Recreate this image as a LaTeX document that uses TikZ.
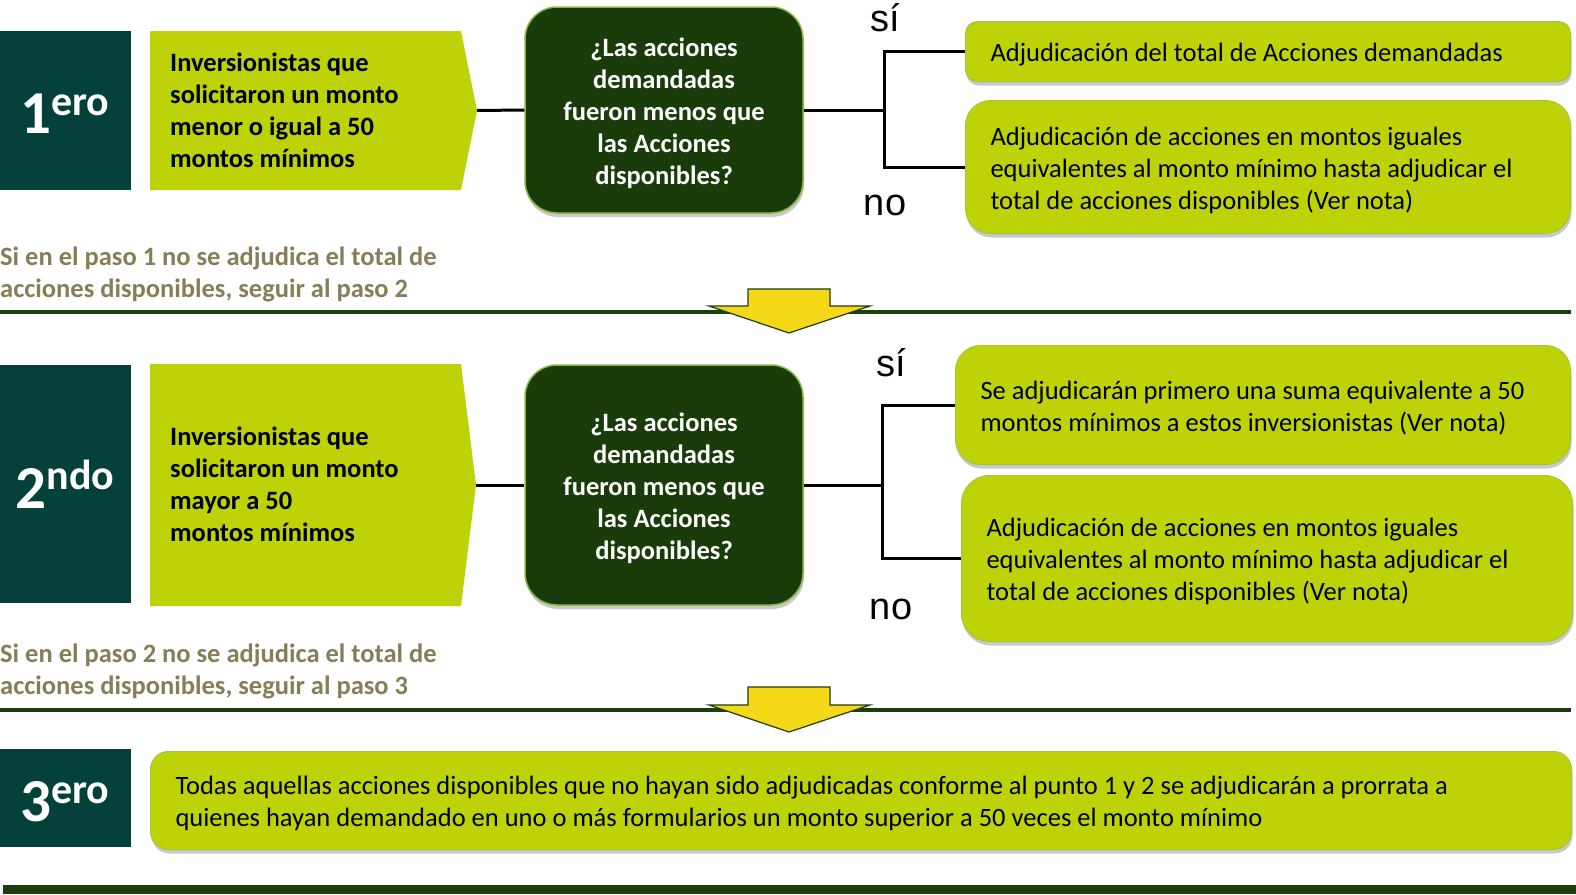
\documentclass[tikz,border=0pt]{standalone}
\usepackage{fontspec}
\setmainfont{Carlito}
\newfontfamily\arialf{Liberation Sans}
\usetikzlibrary{shadows}
\definecolor{tealbox}{HTML}{03413A}
\definecolor{limef}{HTML}{BDD308}
\definecolor{limeedge}{HTML}{A4C63C}
\definecolor{decfill}{HTML}{1A3C0B}
\definecolor{decedge}{HTML}{8BB443}
\definecolor{olivetxt}{HTML}{857E56}
\definecolor{rulecol}{HTML}{1C3D0C}
\definecolor{arrowy}{HTML}{F5D818}
\newcommand\tstrut{\spaceskip=0pt\relax\rule{0pt}{30.5pt}}
\newcommand\bstrut{\rule[-9.6pt]{0pt}{9.6pt}}
\begin{document}
\begin{tikzpicture}[x=1pt,y=-1pt,
  stepnum/.style={fill=tealbox, inner sep=0pt, minimum width=131pt, anchor=north west},
  numtext/.style={text=white, font=\bfseries, inner sep=0pt, anchor=base},
  bodytext/.style={font=\fontsize{26.5}{32}\selectfont\bfseries, align=left, inner sep=0pt, anchor=west},
  olive/.style={bodytext, text=olivetxt},
  shadowed/.style={drop shadow={shadow xshift=1pt, shadow yshift=-4pt, opacity=0.3, fill=black!70}},
  decision/.style={shadowed, fill=decfill, draw=decedge, line width=1.5pt, rounded corners=32pt,
    text=white, font=\fontsize{26.5}{32}\selectfont\bfseries, align=center, inner sep=0pt,
    minimum width=278pt},
  result/.style={shadowed, fill=limef, draw=limeedge, line width=1pt, anchor=north west,
    font=\fontsize{26.5}{32}\selectfont, align=left, inner xsep=25pt, inner ysep=0pt},
  yesno/.style={font=\arialf\fontsize{38}{38}\selectfont, inner sep=0pt, anchor=base},
  conn/.style={line width=3pt, black},
  rulel/.style={line width=4.5pt, rulecol},
  downarrow/.style={fill=arrowy, draw=rulecol, line width=1.2pt, line join=miter}
]
\useasboundingbox (0,0) rectangle (1576,894);

% ---------- Row 1 ----------
\node[stepnum, minimum height=159pt] (s1) at (0,31) {};
\node[numtext] (n1) at (65,133) {\fontsize{61}{61}\selectfont 1\raisebox{18pt}{\fontsize{42}{42}\selectfont ero}};
\fill[limef] (150,31) -- (461,31) -- (477,110.5) -- (461,190) -- (150,190) -- cycle;
\coordinate (t1) at (477,110.5);
\node[bodytext] (q1) at (170,109.5) {\tstrut Inversionistas que\\solicitaron un monto\\menor o igual a 50\\montos mínimos\bstrut};
\node[decision, minimum height=206pt] (d1) at (664,110) {\tstrut¿Las acciones\\demandadas\\fueron menos que\\las Acciones\\disponibles?\bstrut};
\node[result, minimum width=605pt, minimum height=60pt, text width=555pt, rounded corners=12pt] (r1) at (965,21)
  {\tstrut Adjudicación del total de Acciones demandadas\bstrut};
\node[result, minimum width=605pt, minimum height=133pt, text width=555pt, rounded corners=25pt] (r2) at (965,100)
  {\tstrut Adjudicación de acciones en montos iguales\\equivalentes al monto mínimo hasta adjudicar el\\total de acciones disponibles (Ver nota)\bstrut};
\coordinate (j1) at (884,110);
\draw[conn] (t1) -- (d1.west);
\draw[conn] (d1.east) -- (j1);
\draw[conn] (j1) |- (r1.west);
\draw[conn] (j1) |- (r2.west);
\node[yesno] (y1) at (885,31) {sí};
\node[yesno] (x1) at (885,215) {no};
\node[olive] (o1) at (0,271.2) {\tstrut Si en el paso 1 no se adjudica el total de\\acciones disponibles, seguir al paso 2\bstrut};
\draw[rulel] (0,312) -- (1571,312);
\draw[downarrow] (748,289) -- (830,289) -- (830,306) -- (870,306) -- (789,333) -- (709,306) -- (748,306) -- cycle;

% ---------- Row 2 ----------
\node[stepnum, minimum height=238pt] (s2) at (0,365) {};
\node[numtext] (n2) at (65,508) {\fontsize{61}{61}\selectfont 2\raisebox{19pt}{\fontsize{42}{42}\selectfont ndo}};
\fill[limef] (150,364) -- (461,364) -- (476,485) -- (461,606) -- (150,606) -- cycle;
\coordinate (t2) at (476,485);
\node[bodytext] (q2) at (170,483.5) {\tstrut Inversionistas que\\solicitaron un monto\\mayor a 50\\montos mínimos\bstrut};
\node[decision, minimum height=240pt] (d2) at (664,485) {\tstrut¿Las acciones\\demandadas\\fueron menos que\\las Acciones\\disponibles?\bstrut};
\node[result, minimum width=615pt, minimum height=119pt, text width=565pt, rounded corners=25pt] (r3) at (955,345)
  {\tstrut Se adjudicarán primero una suma equivalente a 50\\montos mínimos a estos inversionistas (Ver nota)\bstrut};
\node[result, minimum width=611pt, minimum height=166pt, text width=561pt, rounded corners=28pt] (r4) at (961,475)
  {\tstrut Adjudicación de acciones en montos iguales\\equivalentes al monto mínimo hasta adjudicar el\\total de acciones disponibles (Ver nota)\bstrut};
\coordinate (j2) at (882,485);
\draw[conn] (t2) -- (d2.west);
\draw[conn] (d2.east) -- (j2);
\draw[conn] (j2) |- (r3.west);
\draw[conn] (j2) |- (r4.west);
\node[yesno] (y2) at (891,376) {sí};
\node[yesno] (x2) at (891,619) {no};
\node[olive] (o2) at (0,668) {\tstrut Si en el paso 2 no se adjudica el total de\\acciones disponibles, seguir al paso 3\bstrut};
\draw[rulel] (0,710) -- (1571,710);
\draw[downarrow] (748,687) -- (830,687) -- (830,705) -- (870,705) -- (789,732) -- (709,705) -- (748,705) -- cycle;

% ---------- Row 3 ----------
\node[stepnum, minimum height=98pt] (s3) at (0,749) {};
\node[numtext] (n3) at (65,821) {\fontsize{61}{61}\selectfont 3\raisebox{18pt}{\fontsize{42}{42}\selectfont ero}};
\node[result, minimum width=1421pt, minimum height=98pt, text width=1371pt, rounded corners=18pt] (r5) at (150,751)
  {\tstrut Todas aquellas acciones disponibles que no hayan sido adjudicadas conforme al punto 1 y 2 se adjudicarán a prorrata a\\quienes hayan demandado en uno o más formularios un monto superior a 50 veces el monto mínimo\bstrut};
\fill[rulecol] (3,885) rectangle (1576,894);
\end{tikzpicture}
\end{document}
